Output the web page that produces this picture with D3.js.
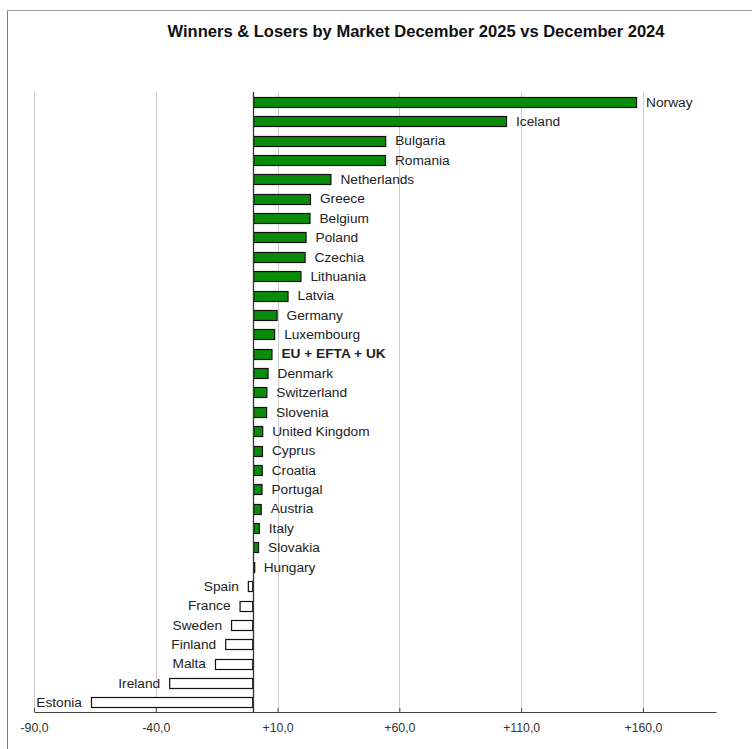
<!DOCTYPE html>
<html><head><meta charset="utf-8">
<script src="https://cdn.jsdelivr.net/npm/d3@7"></script>
<style>body{margin:0;background:#fff}svg{display:block}</style>
</head><body>
<svg id="c" width="752" height="749"></svg>
<script>
const markets = ["Norway","Iceland","Bulgaria","Romania","Netherlands","Greece","Belgium","Poland","Czechia","Lithuania","Latvia","Germany","Luxembourg","EU + EFTA + UK","Denmark","Switzerland","Slovenia","United Kingdom","Cyprus","Croatia","Portugal","Austria","Italy","Slovakia","Hungary","Spain","France","Sweden","Finland","Malta","Ireland","Estonia"];
const changes = [157.6,104.2,54.6,54.5,32.1,23.7,23.5,21.9,21.5,19.8,14.5,10.0,9.0,7.9,6.3,5.8,5.7,4.1,4.0,3.9,3.8,3.5,2.7,2.4,0.6,-2.2,-5.6,-9.1,-11.5,-15.7,-34.5,-66.6];
const tickValues = [-90,-40,10,60,110,160];
const title = "Winners & Losers by Market December 2025 vs December 2024";
const totalLabel = "EU + EFTA + UK";

const data = markets.map((m,i)=>({m, v: changes[i]}));
const svg = d3.select("#c");
const font = "Liberation Sans, Arial, sans-serif";

// frame
svg.append("line").attr("x1",7.5).attr("x2",752).attr("y1",10.5).attr("y2",10.5).attr("stroke","#999").attr("stroke-width",1);
svg.append("line").attr("x1",7.5).attr("x2",7.5).attr("y1",10.5).attr("y2",749).attr("stroke","#777").attr("stroke-width",1);

const x = d3.scaleLinear().domain([-90,190]).range([34,716]);
const y = d3.scaleBand().domain(markets).range([92,712]).paddingInner(0.5).paddingOuter(0.25);
const plotTop = 92, plotBottom = 712;

// gridlines
svg.append("g").selectAll("line").data(tickValues).join("line")
  .attr("x1",d=>Math.round(x(d))+0.5).attr("x2",d=>Math.round(x(d))+0.5)
  .attr("y1",plotTop).attr("y2",plotBottom).attr("stroke","#cfcfcf").attr("stroke-width",1);

// axis
const axis = d3.axisBottom(x).tickValues(tickValues).tickSize(4).tickSizeOuter(0)
  .tickFormat(d=> (d>0?"+":"") + d3.format(".1f")(d).replace(".",",").replace("−","-"));
const ax = svg.append("g").attr("transform",`translate(0,${plotBottom})`).call(axis);
ax.select(".domain").attr("stroke","#444");
ax.selectAll(".tick line").attr("stroke","#444").attr("y1",-4).attr("y2",0);
ax.selectAll(".tick text").attr("font-family",font).attr("font-size",12.3).attr("fill","#333").attr("dy","1.05em");

// bars
svg.append("g").selectAll("rect").data(data).join("rect")
  .attr("x",d=>Math.min(x(0),x(d.v))+0.5)
  .attr("width",d=>Math.max(1,Math.abs(x(d.v)-x(0))-1))
  .attr("y",d=>Math.round(y(d.m))+0.5)
  .attr("height",Math.round(y.bandwidth()))
  .attr("fill",d=>d.v>=0?"#0a8c0a":"#fff")
  .attr("stroke","#111").attr("stroke-width",1.2);

// zero line
svg.append("line").attr("x1",Math.round(x(0))+0.5).attr("x2",Math.round(x(0))+0.5)
  .attr("y1",plotTop).attr("y2",plotBottom).attr("stroke","#333").attr("stroke-width",1.3);

// labels
svg.append("g").selectAll("text").data(data).join("text")
  .attr("x",d=>d.v>=0? x(d.v)+9 : x(d.v)-9)
  .attr("y",d=>y(d.m)+y.bandwidth()/2)
  .attr("dy","0.36em")
  .attr("text-anchor",d=>d.v>=0?"start":"end")
  .attr("font-family",font).attr("font-size",13.7)
  .attr("font-weight",d=>d.m===totalLabel?"bold":"normal")
  .attr("fill","#222")
  .text(d=>d.m);

// title
svg.append("text").attr("x",416).attr("y",37).attr("text-anchor","middle")
  .attr("font-family",font).attr("font-size",17).attr("font-weight","bold").attr("fill","#111")
  .attr("textLength",497).attr("lengthAdjust","spacingAndGlyphs")
  .text(title);
</script>
</body></html>
